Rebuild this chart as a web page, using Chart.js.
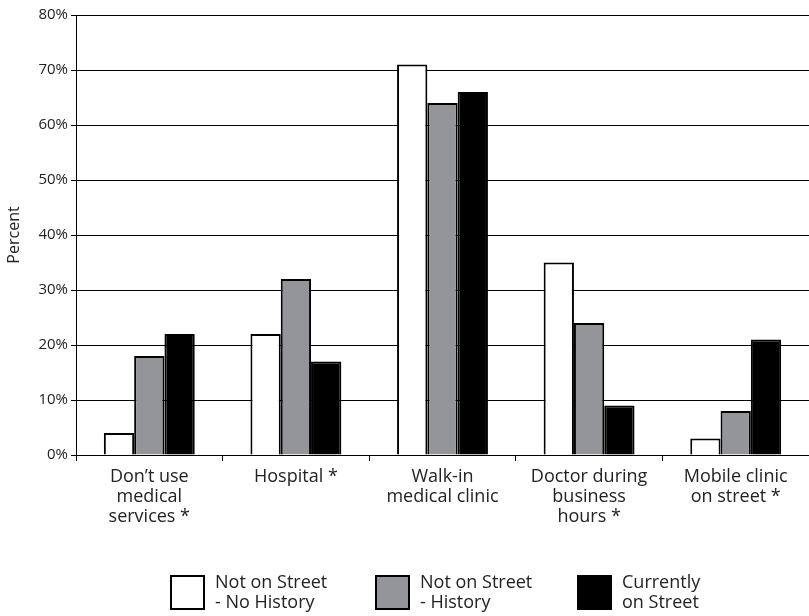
<!DOCTYPE html>
<html>
<head>
<meta charset="utf-8">
<script src="https://cdn.jsdelivr.net/npm/chart.js@4/dist/chart.umd.min.js"></script>
<style>
  html, body { margin: 0; padding: 0; background: #fff; }
  #wrap { position: relative; width: 809px; height: 616px; }
  .legend-item { position: absolute; top: 571px; display: flex; align-items: flex-start; font-family: "Open Sans", "Noto Sans", sans-serif; font-size: 18px; line-height: 20px; color: #222; }
  .legend-item .box { width: 31px; height: 31px; border: 2px solid #000; margin-right: 10px; margin-top: 4px; }
</style>
</head>
<body>
<div id="wrap">
  <canvas id="chart" width="809" height="616"></canvas>
  <div id="legend"></div>
</div>
<script>
const categories = [
  ["Don\u2019t use", "medical", "services *"],
  ["Hospital *"],
  ["Walk-in", "medical clinic"],
  ["Doctor during", "business", "hours *"],
  ["Mobile clinic", "on street *"]
];
const noHistory = [4, 22, 71, 35, 3];
const history = [18, 32, 64, 24, 8];
const onStreet = [22, 17, 66, 9, 21];
const seriesNames = [["Not on Street", "- No History"], ["Not on Street", "- History"], ["Currently", "on Street"]];
const seriesColors = ["#ffffff", "#949599", "#000000"];
const yTicks = [0, 10, 20, 30, 40, 50, 60, 70, 80];

const fontFamily = '"Open Sans", "Noto Sans", sans-serif';

const datasets = [noHistory, history, onStreet].map((values, i) => ({
  label: seriesNames[i].join(' '),
  data: values,
  backgroundColor: seriesColors[i],
  borderColor: '#000',
  borderWidth: 2,
  borderSkipped: 'bottom',
  categoryPercentage: 0.62,
  barPercentage: 1.0
}));

new Chart(document.getElementById('chart'), {
  type: 'bar',
  data: { labels: categories, datasets },
  options: {
    responsive: false,
    animation: false,
    layout: { padding: { top: 15, right: 0, left: 0, bottom: 0 } },
    plugins: {
      legend: { display: false },
      tooltip: { enabled: false }
    },
    scales: {
      x: {
        grid: { display: true, offset: true, drawOnChartArea: false, color: '#000', tickLength: 6 },
        border: { color: '#000', width: 1 },
        ticks: { color: '#222', font: { family: fontFamily, size: 18, lineHeight: 1.1 }, maxRotation: 0, padding: 6 },
        afterFit: s => { s.height = 161; }
      },
      y: {
        min: 0,
        max: 80,
        afterBuildTicks: s => { s.ticks = yTicks.map(v => ({ value: v })); },
        grid: { color: '#000', lineWidth: 1, tickLength: 5 },
        border: { color: '#000', width: 1 },
        ticks: { color: '#222', font: { family: fontFamily, size: 15 }, padding: 3, callback: v => v + '%' },
        title: { display: true, text: 'Percent', color: '#222', font: { family: fontFamily, size: 16 }, padding: { top: 5, bottom: 0 } },
        afterFit: s => { s.width = 76; }
      }
    }
  }
});

// legend with two-line labels
const legendX = [170, 375, 577];
const legend = document.getElementById('legend');
seriesNames.forEach((name, i) => {
  const item = document.createElement('div');
  item.className = 'legend-item';
  item.style.left = legendX[i] + 'px';
  item.innerHTML = '<div class="box" style="background:' + seriesColors[i] + '"></div><div>' + name.join('<br>') + '</div>';
  legend.appendChild(item);
});
</script>
</body>
</html>
